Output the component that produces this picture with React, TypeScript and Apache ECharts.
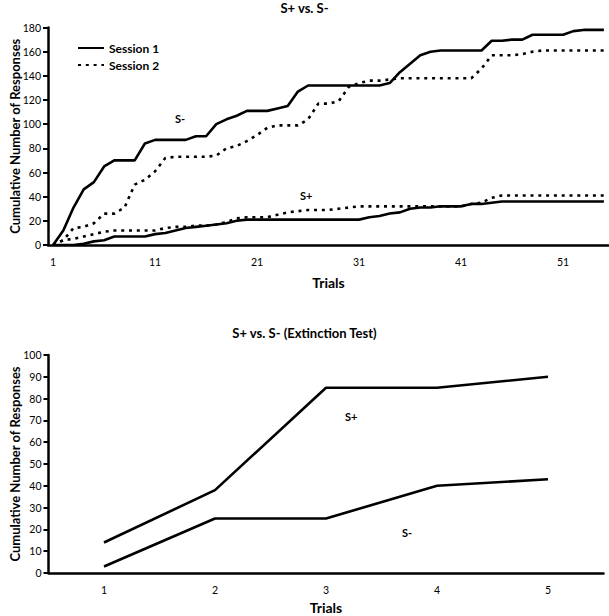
import React, { useEffect, useRef } from "react";
import * as echarts from "echarts";

// ---- Top chart: acquisition (trials 1..55) ----
const trials: string[] = Array.from({ length: 55 }, (_, i) => String(i + 1));

const session1Minus = [
  0, 12, 31, 46, 52, 65, 70, 70, 70, 84,
  87, 87, 87, 87, 90, 90, 100, 104, 107, 111,
  111, 111, 113, 115, 127, 132, 132, 132, 132, 132,
  132, 132, 132, 134, 143, 150, 157, 160, 161, 161,
  161, 161, 161, 169, 169, 170, 170, 174, 174, 174,
  174, 177, 178, 178, 178,
];
const session2Minus = [
  0, 4, 14, 15, 18, 26, 26, 31, 50, 54,
  61, 72, 73, 73, 73, 73, 74, 80, 82, 86,
  91, 97, 99, 99, 99, 104, 117, 117, 119, 131,
  134, 136, 136, 137, 138, 138, 138, 138, 138, 138,
  138, 138, 146, 157, 157, 157, 158, 160, 161, 161,
  161, 161, 161, 161, 161,
];
const session1Plus = [
  0, 0, 0, 1, 3, 4, 7, 7, 7, 7,
  9, 10, 12, 14, 15, 16, 17, 18, 20, 21,
  21, 21, 21, 21, 21, 21, 21, 21, 21, 21,
  21, 23, 24, 26, 27, 30, 31, 31, 32, 32,
  32, 34, 34, 35, 36, 36, 36, 36, 36, 36,
  36, 36, 36, 36, 36,
];
const session2Plus = [
  0, 4, 5, 7, 9, 11, 12, 12, 12, 12,
  12, 14, 15, 15, 16, 16, 17, 19, 22, 23,
  23, 23, 25, 27, 28, 29, 29, 29, 30, 31,
  32, 32, 32, 32, 32, 32, 32, 32, 32, 32,
  32, 34, 35, 39, 41, 41, 41, 41, 41, 41,
  41, 41, 41, 41, 41,
];

// ---- Bottom chart: extinction test ----
const extTrials = ["1", "2", "3", "4", "5"];
const extPlus = [14, 38, 85, 85, 90];
const extMinus = [3, 25, 25, 40, 43];

const topTitle = "S+ vs. S-";
const bottomTitle = "S+ vs. S- (Extinction Test)";
const yName = "Cumulative Number of Responses";
const xName = "Trials";

const FONT = "Lato";

export default function App() {
  const ref = useRef<HTMLDivElement>(null);

  useEffect(() => {
    document.body.style.margin = "0";
    if (!ref.current) return;
    const chart = echarts.init(ref.current, null, { renderer: "svg" });

    const solid = { color: "#000", width: 2.6, type: "solid" as const };
    const dotted = { color: "#000", width: 2.6, type: [3, 4.8], cap: "butt" as const };

    const axisLine = { show: true, lineStyle: { color: "#000", width: 2.5 } };
    const labelStyle = { color: "#000", fontFamily: FONT, fontSize: 10.5 };
    const nameStyle = { color: "#000", fontFamily: FONT, fontSize: 14, fontWeight: "bold" as const };

    const makeX = (gridIndex: number, data: string[], interval: number, gap: number) => ({
      type: "category" as const,
      gridIndex,
      data,
      boundaryGap: true,
      axisLine,
      axisTick: { show: false },
      axisLabel: { ...labelStyle, interval, margin: 11 },
      splitLine: { show: false },
      name: xName,
      nameLocation: "middle" as const,
      nameGap: gap,
      nameMoveOverlap: false,
      nameTextStyle: nameStyle,
    });
    const makeY = (gridIndex: number, max: number, interval: number) => ({
      type: "value" as const,
      gridIndex,
      min: 0,
      max,
      interval,
      axisLine,
      axisTick: { show: true, length: 5, lineStyle: { color: "#000", width: 2 } },
      axisLabel: { ...labelStyle, margin: 7 },
      splitLine: { show: false },
      name: yName,
      nameLocation: "middle" as const,
      nameGap: 27,
      nameMoveOverlap: false,
      nameTextStyle: { ...nameStyle, fontSize: 13 },
    });

    const annot = (x: number, y: number, text: string) => ({
      type: "text" as const,
      left: x,
      top: y,
      style: {
        text,
        fill: "#000",
        font: `bold 11px ${FONT}`,
        textAlign: "center" as const,
        textVerticalAlign: "middle" as const,
      },
    });

    const lineSeries = (name: string, xi: number, data: number[], ls: object) => ({
      name,
      type: "line" as const,
      xAxisIndex: xi,
      yAxisIndex: xi,
      data,
      showSymbol: false,
      symbol: "none",
      lineStyle: ls,
      itemStyle: { color: "#000" },
    });

    chart.setOption({
      animation: false,
      backgroundColor: "#fff",
      title: [
        {
          text: topTitle,
          left: "center",
          top: 1,
          padding: 0,
          textStyle: { color: "#000", fontFamily: FONT, fontSize: 13, fontWeight: "bold" },
        },
        {
          text: bottomTitle,
          left: "center",
          top: 326,
          padding: 0,
          textStyle: { color: "#000", fontFamily: FONT, fontSize: 13, fontWeight: "bold" },
        },
      ],
      legend: {
        data: ["Session 1", "Session 2"],
        orient: "vertical",
        left: 72,
        top: 37,
        itemWidth: 26,
        itemHeight: 12,
        itemGap: 5,
        itemStyle: { opacity: 0 },
        textStyle: { color: "#000", fontFamily: FONT, fontSize: 12, fontWeight: "bold" },
      },
      grid: [
        { left: 48, right: 0, top: 27.5, height: 217.5, outerBoundsMode: "none" },
        { left: 48.5, right: 5.5, top: 355, height: 218, outerBoundsMode: "none" },
      ],
      xAxis: [makeX(0, trials, 9, 30), makeX(1, extTrials, 0, 27)],
      yAxis: [makeY(0, 180, 20), makeY(1, 100, 10)],
      series: [
        lineSeries("Session 1", 0, session1Minus, solid),
        lineSeries("Session 2", 0, session2Minus, dotted),
        lineSeries("Session 1", 0, session1Plus, solid),
        lineSeries("Session 2", 0, session2Plus, dotted),
        lineSeries("S+ (Extinction)", 1, extPlus, solid),
        lineSeries("S- (Extinction)", 1, extMinus, solid),
      ],
      graphic: [
        annot(175, 113, "S-"),
        annot(300, 190, "S+"),
        annot(345, 411, "S+"),
        annot(402, 527, "S-"),
      ],
    });

    return () => chart.dispose();
  }, []);

  return <div ref={ref} style={{ width: 609, height: 616 }} />;
}
